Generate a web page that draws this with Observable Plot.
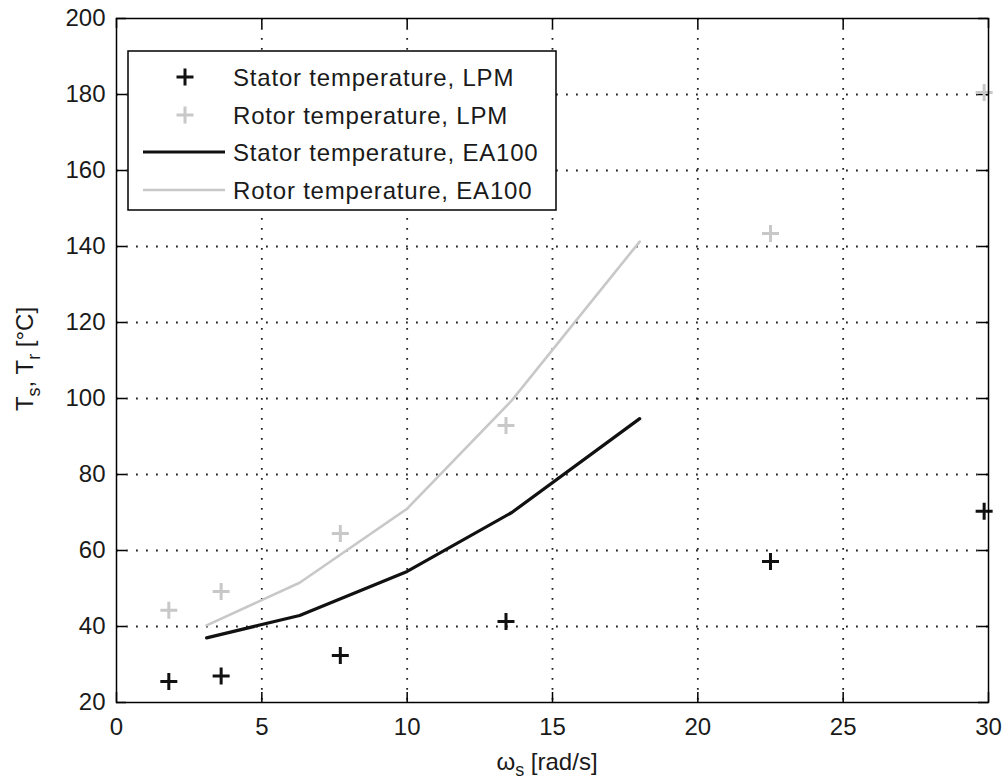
<!DOCTYPE html>
<html><head><meta charset="utf-8">
<script src="https://cdn.jsdelivr.net/npm/d3@7"></script>
<script src="https://cdn.jsdelivr.net/npm/@observablehq/plot@0.6"></script>
<style>body{margin:0;background:#fff} svg{display:block}</style>
</head><body><div id="chart"></div>
<script>
// LPM (lumped parameter model) results
const lpmSpeed  = [1.8, 3.6, 7.7, 13.4, 22.5, 29.85];
const statorLPM = [25.5, 27.0, 32.4, 41.3, 57.1, 70.3];
const rotorLPM  = [44.3, 49.2, 64.5, 92.9, 143.4, 180.5];
// EA100 results
const eaSpeed  = [3.1, 6.3, 10.0, 13.6, 18.0];
const statorEA = [37.0, 42.9, 54.5, 70.0, 94.7];
const rotorEA  = [40.3, 51.5, 71.0, 99.5, 141.3];
// ticks
const xTicks = [0, 5, 10, 15, 20, 25, 30];
const yTicks = [20, 40, 60, 80, 100, 120, 140, 160, 180, 200];
const seriesNames = ["Stator temperature, LPM", "Rotor temperature, LPM", "Stator temperature, EA100", "Rotor temperature, EA100"];

const W = 1004, H = 782, mL = 116, mR = 16, mT = 18, mB = 80;
const innerW = W - mL - mR, innerH = H - mT - mB;
const dark = "#111", light = "#c8c8c8";
const plus = {draw(ctx, size) { const r = Math.sqrt(size / Math.PI); ctx.moveTo(-r, 0); ctx.lineTo(r, 0); ctx.moveTo(0, -r); ctx.lineTo(0, r); }};

const lpm = lpmSpeed.map((x, i) => ({x, stator: statorLPM[i], rotor: rotorLPM[i]}));
const ea = eaSpeed.map((x, i) => ({x, stator: statorEA[i], rotor: rotorEA[i]}));
const gridOpts = {stroke: "#222", strokeOpacity: 1, strokeWidth: 1.8, strokeDasharray: "1.8,8.2"};
const tickOpts = {stroke: "#000", strokeWidth: 1.5};

const chart = Plot.plot({
  width: W, height: H, marginLeft: mL, marginRight: mR, marginTop: mT, marginBottom: mB,
  style: {fontFamily: "'Liberation Sans', Arial, sans-serif", fontSize: "24px", color: "#1a1a1a", background: "#fff"},
  x: {domain: [0, 30]},
  y: {domain: [20, 200]},
  marks: [
    Plot.gridX(xTicks.slice(1, -1), gridOpts),
    Plot.gridY(yTicks.slice(1, -1), gridOpts),
    Plot.ruleX(xTicks, {...tickOpts, insetTop: innerH - 10}),
    Plot.ruleX(xTicks, {...tickOpts, insetBottom: innerH - 10}),
    Plot.ruleY(yTicks, {...tickOpts, insetRight: innerW - 10}),
    Plot.ruleY(yTicks, {...tickOpts, insetLeft: innerW - 10}),
    Plot.axisX(xTicks, {tickSize: 0, tickPadding: 15, label: null, fontSize: 24}),
    Plot.axisY(yTicks, {tickSize: 0, tickPadding: 11, label: null, fontSize: 24}),
    Plot.line(ea, {x: "x", y: "rotor", stroke: light, strokeWidth: 2.6}),
    Plot.line(ea, {x: "x", y: "stator", stroke: dark, strokeWidth: 3.2}),
    Plot.dot(lpm, {x: "x", y: "rotor", symbol: plus, r: 8.5, fill: "none", stroke: light, strokeWidth: 3}),
    Plot.dot(lpm, {x: "x", y: "stator", symbol: plus, r: 8.5, fill: "none", stroke: dark, strokeWidth: 3}),
    Plot.frame({stroke: "#000", strokeWidth: 1.5})
  ]
});
document.getElementById("chart").appendChild(chart);

const svg = d3.select(chart);
const font = "'Liberation Sans', Arial, sans-serif";
// axis labels
const xl = svg.append("text").attr("x", 547).attr("y", 770).attr("text-anchor", "middle")
  .attr("font-family", font).attr("font-size", 24).attr("fill", "#1a1a1a");
xl.append("tspan").text("ω");
xl.append("tspan").attr("dy", 6).attr("font-size", 18).text("s");
xl.append("tspan").attr("dy", -6).text(" [rad/s]");

const yl = svg.append("text").attr("transform", "translate(33,359) rotate(-90)").attr("text-anchor", "middle")
  .attr("font-family", font).attr("font-size", 24).attr("fill", "#1a1a1a");
yl.append("tspan").text("T");
yl.append("tspan").attr("dy", 7).attr("font-size", 18).text("s");
yl.append("tspan").attr("dy", -7).text(", T");
yl.append("tspan").attr("dy", 7).attr("font-size", 18).text("r");
yl.append("tspan").attr("dy", -7).text(" [°C]");

// legend
const lg = svg.append("g");
lg.append("rect").attr("x", 128).attr("y", 51).attr("width", 428).attr("height", 159)
  .attr("fill", "#fff").attr("stroke", "#000").attr("stroke-width", 1.5);
const rowsY = [77, 115, 152, 190];
const styles = [
  {kind: "plus", color: dark}, {kind: "plus", color: light},
  {kind: "line", color: dark, w: 3.2}, {kind: "line", color: light, w: 2.6}
];
seriesNames.forEach((name, i) => {
  const y = rowsY[i], s = styles[i];
  if (s.kind === "plus") {
    lg.append("path").attr("d", `M${185 - 8.5},${y}h17M185,${y - 8.5}v17`)
      .attr("stroke", s.color).attr("stroke-width", 3).attr("fill", "none");
  } else {
    lg.append("line").attr("x1", 143).attr("x2", 225).attr("y1", y).attr("y2", y)
      .attr("stroke", s.color).attr("stroke-width", s.w);
  }
  lg.append("text").attr("x", 233).attr("y", y).attr("dy", "0.36em").attr("text-anchor", "start")
    .attr("letter-spacing", "0.8px")
    .attr("font-family", font).attr("font-size", 24).attr("fill", "#1a1a1a").text(name);
});
</script>
</body></html>
